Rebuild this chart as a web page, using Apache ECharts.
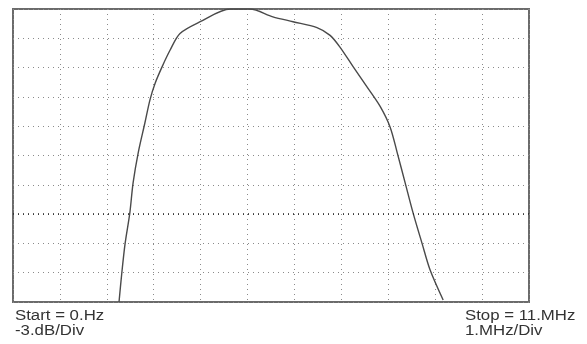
<!DOCTYPE html>
<html>
<head>
<meta charset="utf-8">
<script src="https://cdn.jsdelivr.net/npm/echarts@6/dist/echarts.min.js"></script>
<style>
  html, body { margin: 0; padding: 0; background: #fff; }
  #main { width: 587px; height: 344px; }
</style>
</head>
<body>
<div id="main"></div>
<script>
// sweep: frequency (MHz) and level (dB)
var freqMHz = [2.26, 2.32, 2.39, 2.49, 2.56, 2.67, 2.81, 2.92, 3.03, 3.18, 3.35, 3.56, 3.99, 4.63,
               5.05, 5.54, 5.97, 6.48, 6.76, 6.97, 7.25, 7.55, 7.83, 8.04, 8.19, 8.36, 8.53, 8.72, 8.89, 9.17];
var levelDb = [-30, -27.0, -24.0, -20.9, -17.8, -14.7, -11.7, -9.3, -7.6, -5.9, -4.2, -2.5, -1.3, 0,
               0, -0.8, -1.3, -1.9, -2.7, -3.9, -5.9, -8.0, -10.0, -12.1, -14.7, -17.8, -20.9, -24.0, -26.7, -29.8];

var startLabel = 'Start = 0.Hz';
var yDivLabel = '-3.dB/Div';
var stopLabel = 'Stop = 11.MHz';
var xDivLabel = '1.MHz/Div';
var refLevel = -21;

var trace = freqMHz.map(function (f, i) { return [f, levelDb[i]]; });

var chart = echarts.init(document.getElementById('main'), null, { renderer: 'canvas' });

var dotted = { color: '#8a8a8a', width: 1, type: [1, 4] };
var textStyle = { fontFamily: 'Liberation Sans, Arial, sans-serif', fontSize: 14, fill: '#333' };

function label(txt, x, y) {
  return { type: 'text', x: x, y: y, scaleX: 1.2, style: Object.assign({ text: txt }, textStyle) };
}

var option = {
  animation: false,
  backgroundColor: '#fff',
  grid: {
    left: 13, top: 9, right: 58, bottom: 42,
    show: true, borderColor: '#6b6b6b', borderWidth: 2, backgroundColor: 'transparent'
  },
  xAxis: {
    type: 'value', min: 0, max: 11, interval: 1,
    axisLine: { show: false }, axisTick: { show: false }, axisLabel: { show: false },
    splitLine: { show: true, lineStyle: dotted }
  },
  yAxis: {
    type: 'value', min: -30, max: 0, interval: 3,
    axisLine: { show: false }, axisTick: { show: false }, axisLabel: { show: false },
    splitLine: { show: true, lineStyle: dotted }
  },
  series: [{
    type: 'line',
    data: trace,
    smooth: 0.3,
    symbol: 'none',
    clip: true,
    lineStyle: { color: '#4a4a4a', width: 1.4 },
    markLine: {
      silent: true, symbol: 'none', label: { show: false },
      lineStyle: { color: '#222', width: 1.5, type: [1, 4] },
      data: [{ yAxis: refLevel }]
    }
  }],
  graphic: [
    label(startLabel, 15, 309),
    label(yDivLabel, 15, 324),
    label(stopLabel, 465, 309),
    label(xDivLabel, 465, 324)
  ]
};

chart.setOption(option);
</script>
</body>
</html>
